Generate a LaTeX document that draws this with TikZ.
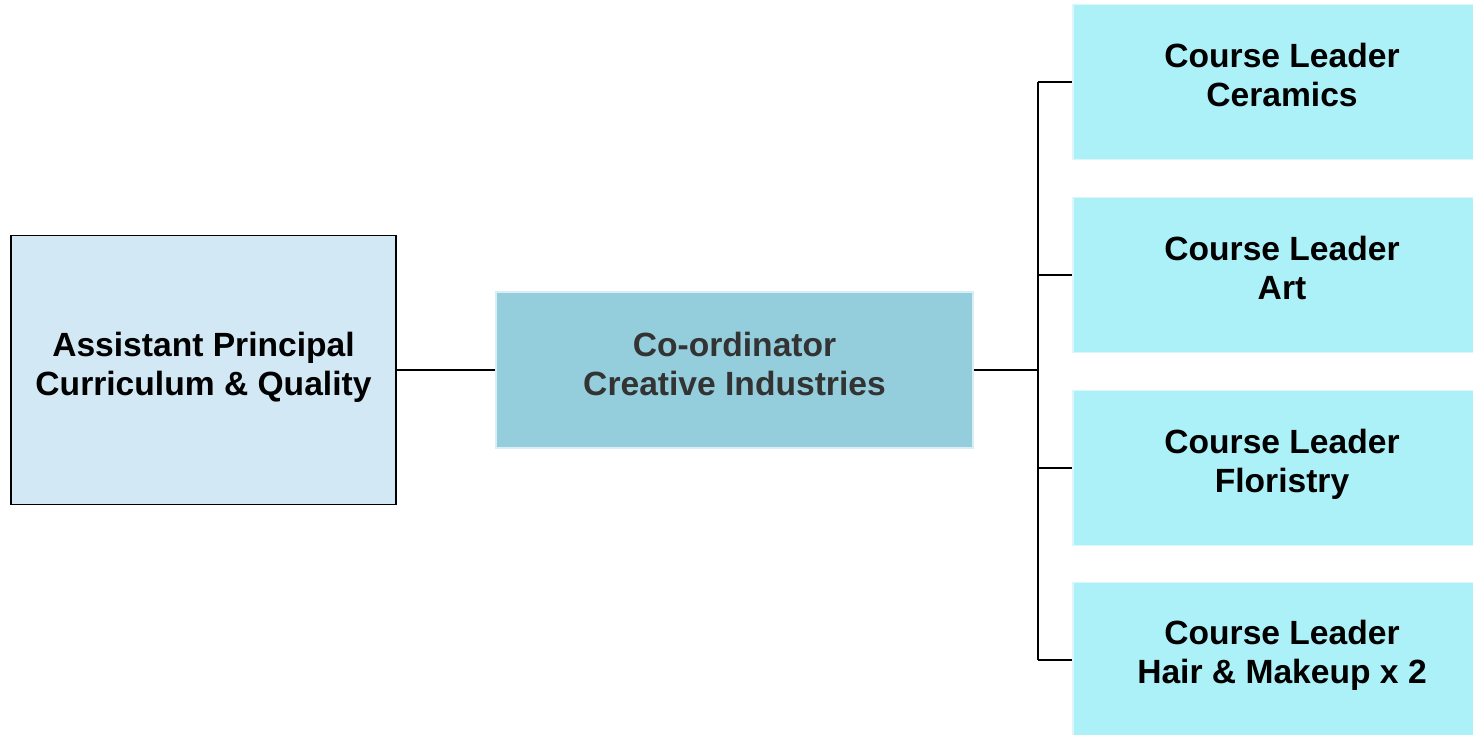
\documentclass[tikz,border=0pt]{standalone}
\usepackage{fontspec}
\setmainfont{Liberation Sans}
\usetikzlibrary{positioning}

\definecolor{apfill}{HTML}{D2E8F5}
\definecolor{cofill}{HTML}{94CDDC}
\definecolor{coline}{HTML}{D8EEF4}
\definecolor{clfill}{HTML}{ADF1F8}
\definecolor{clline}{HTML}{DCF6F9}
\definecolor{cotext}{HTML}{333333}

\tikzset{
  apbox/.style={draw=black, line width=1.3pt, fill=apfill, minimum width=385pt, minimum height=269pt},
  cobox/.style={draw=coline, line width=1.3pt, fill=cofill, minimum width=477pt, minimum height=156pt},
  clbox/.style={draw=clline, line width=1.3pt, fill=clfill, minimum width=418pt, minimum height=155pt},
  lbl/.style={align=center, font=\bfseries\fontsize{33.6}{39}\selectfont},
  link/.style={line width=1.3pt}
}

\begin{document}
\begin{tikzpicture}[x=1pt,y=1pt,yscale=-1,xscale=1]
    \useasboundingbox (0,0) rectangle (1473,734);

    % boxes
    \node[apbox] (ap) at (203.5,370) {};
    \node[cobox] (co) at (734.5,370) {};
    \node[clbox] (cer) at (1282,82) {};
    \node[clbox] (art) at (1282,275) {};
    \node[clbox] (flo) at (1282,468) {};
    \node[clbox] (hair) at (1282,660) {};

    % texts
    \node[lbl] (ap-t) at ([yshift=-3pt]ap.center) {Assistant Principal\\Curriculum \& Quality};
    \node[lbl, text=cotext] (co-t) at ([yshift=-6.5pt]co.center) {Co-ordinator\\Creative Industries};
    \node[lbl] (cer-t) at ([yshift=-7.5pt]cer.center) {Course Leader\\Ceramics};
    \node[lbl] (art-t) at ([yshift=-7.5pt]art.center) {Course Leader\\Art};
    \node[lbl] (flo-t) at ([yshift=-3.5pt]flo.center) {Course Leader\\Floristry};
    \node[lbl] (hair-t) at ([yshift=-5pt]hair.center) {Course Leader\\Hair \& Makeup x 2};

    % connectors
    \coordinate (bus) at (1038,370);
    \draw[link] (ap.east) -- (co.west);
    \draw[link] (co.east) -- (bus);
    \draw[link] (bus |- cer.west) -- (bus |- hair.west);
    \draw[link] (bus |- cer.west) -- (cer.west);
    \draw[link] (bus |- art.west) -- (art.west);
    \draw[link] (bus |- flo.west) -- (flo.west);
    \draw[link] (bus |- hair.west) -- (hair.west);
\end{tikzpicture}
\end{document}
